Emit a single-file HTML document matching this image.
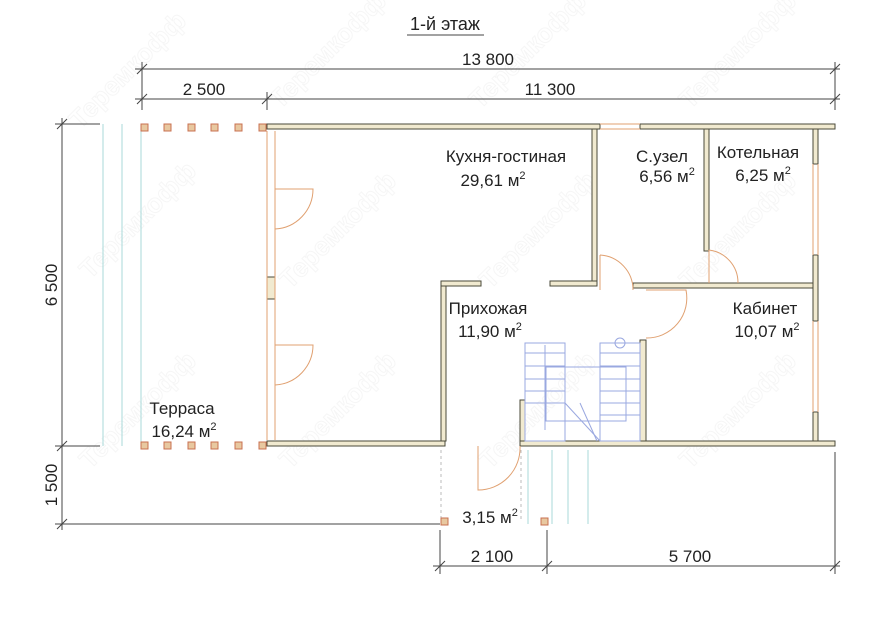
<!DOCTYPE html>
<html><head><meta charset="utf-8"><style>
html,body{margin:0;padding:0;background:#fff;}
svg{display:block;font-family:"Liberation Sans","DejaVu Sans",sans-serif;}
.w{fill:#f1ead0;stroke:#4a4a3a;stroke-width:1}
.d{stroke:#444;stroke-width:1;fill:none}
.t{font-size:17px;fill:#222}
.o{stroke:#e0a070;stroke-width:1;fill:none}
.c{stroke:#a8d8d8;stroke-width:1;fill:none}
.s{stroke:#9aa8e0;stroke-width:1;fill:none}
.p{fill:#e8c8a0;stroke:#c87050;stroke-width:1}
.wm{font-size:26px;font-weight:bold;fill:none;stroke:#f6f6f6;stroke-width:1}
</style></head><body>
<svg width="890" height="630" viewBox="0 0 890 630" xmlns="http://www.w3.org/2000/svg">
<g>
<text class="wm" transform="translate(80,130) rotate(-45)">Теремкофф</text>
<text class="wm" transform="translate(280,110) rotate(-45)">Теремкофф</text>
<text class="wm" transform="translate(480,110) rotate(-45)">Теремкофф</text>
<text class="wm" transform="translate(690,110) rotate(-45)">Теремкофф</text>
<text class="wm" transform="translate(90,280) rotate(-45)">Теремкофф</text>
<text class="wm" transform="translate(290,290) rotate(-45)">Теремкофф</text>
<text class="wm" transform="translate(490,290) rotate(-45)">Теремкофф</text>
<text class="wm" transform="translate(690,290) rotate(-45)">Теремкофф</text>
<text class="wm" transform="translate(90,470) rotate(-45)">Теремкофф</text>
<text class="wm" transform="translate(290,470) rotate(-45)">Теремкофф</text>
<text class="wm" transform="translate(490,470) rotate(-45)">Теремкофф</text>
<text class="wm" transform="translate(690,470) rotate(-45)">Теремкофф</text>
</g>
<text x="445" y="30" class="t" text-anchor="middle" style="font-size:18px">1-й этаж</text>
<line x1="407" y1="35" x2="484" y2="35" class="d"/>
<line x1="135" y1="69" x2="840" y2="69" class="d"/>
<line x1="135" y1="99" x2="840" y2="99" class="d"/>
<line x1="142" y1="62" x2="142" y2="110" class="d"/>
<line x1="835" y1="62" x2="835" y2="110" class="d"/>
<line x1="267" y1="92" x2="267" y2="110" class="d"/>
<g class="d"><line x1="137" y1="74" x2="147" y2="64"/><line x1="830" y1="74" x2="840" y2="64"/><line x1="137" y1="104" x2="147" y2="94"/><line x1="262" y1="104" x2="272" y2="94"/><line x1="830" y1="104" x2="840" y2="94"/></g>
<text x="488" y="65" class="t" text-anchor="middle">13 800</text>
<text x="204" y="95" class="t" text-anchor="middle">2 500</text>
<text x="550" y="95" class="t" text-anchor="middle">11 300</text>
<line x1="62" y1="118" x2="62" y2="530" class="d"/>
<line x1="55" y1="124" x2="100" y2="124" class="d"/>
<line x1="55" y1="446" x2="100" y2="446" class="d"/>
<line x1="55" y1="524" x2="440" y2="524" class="d"/>
<g class="d"><line x1="57" y1="129" x2="67" y2="119"/><line x1="57" y1="451" x2="67" y2="441"/><line x1="57" y1="529" x2="67" y2="519"/></g>
<text transform="translate(57,285) rotate(-90)" class="t" text-anchor="middle">6 500</text>
<text transform="translate(57,485) rotate(-90)" class="t" text-anchor="middle">1 500</text>
<line x1="433" y1="566" x2="840" y2="566" class="d"/>
<line x1="440" y1="530" x2="440" y2="574" class="d"/>
<line x1="547" y1="530" x2="547" y2="574" class="d"/>
<line x1="835" y1="452" x2="835" y2="574" class="d"/>
<g class="d"><line x1="435" y1="571" x2="445" y2="561"/><line x1="542" y1="571" x2="552" y2="561"/><line x1="830" y1="571" x2="840" y2="561"/></g>
<text x="492" y="562" class="t" text-anchor="middle">2 100</text>
<text x="690" y="562" class="t" text-anchor="middle">5 700</text>
<g class="c"><line x1="103" y1="124" x2="103" y2="446"/><line x1="122" y1="124" x2="122" y2="446"/><line x1="141" y1="124" x2="141" y2="446"/>
<line x1="552" y1="450" x2="552" y2="524"/><line x1="568" y1="450" x2="568" y2="524"/><line x1="588" y1="450" x2="588" y2="524"/><line x1="528" y1="450" x2="528" y2="524"/></g>
<g stroke="#bbb" stroke-dasharray="3,3"><line x1="441" y1="450" x2="441" y2="520"/><line x1="521" y1="450" x2="521" y2="520"/></g>
<g class="p"><rect x="141" y="124" width="7" height="7"/><rect x="164" y="124" width="7" height="7"/><rect x="188" y="124" width="7" height="7"/><rect x="211" y="124" width="7" height="7"/><rect x="235" y="124" width="7" height="7"/><rect x="259" y="124" width="7" height="7"/>
<rect x="141" y="442" width="7" height="7"/><rect x="164" y="442" width="7" height="7"/><rect x="188" y="442" width="7" height="7"/><rect x="211" y="442" width="7" height="7"/><rect x="235" y="442" width="7" height="7"/><rect x="259" y="442" width="7" height="7"/>
<rect x="441" y="518" width="7" height="7"/><rect x="541" y="518" width="7" height="7"/></g>
<g class="w">
<rect x="267" y="124" width="333" height="5"/>
<rect x="640" y="124" width="195" height="5"/>
<rect x="267" y="441" width="178" height="5"/>
<rect x="520" y="441" width="315" height="5"/>
<rect x="267" y="277" width="8" height="22"/>
<rect x="592" y="129" width="5" height="152"/>
<rect x="441" y="283" width="5" height="158"/>
<rect x="441" y="281" width="40" height="5"/>
<rect x="550" y="281" width="47" height="5"/>
<rect x="704" y="129" width="5" height="122"/>
<rect x="633" y="283" width="185" height="5"/>
<rect x="813" y="129" width="5" height="35"/>
<rect x="813" y="255" width="5" height="66"/>
<rect x="813" y="412" width="5" height="29"/>
<rect x="640" y="340" width="6" height="101"/>
<rect x="520" y="400" width="5" height="41"/>
</g>
<g class="o">
<line x1="267" y1="131" x2="267" y2="440"/><line x1="275" y1="131" x2="275" y2="440"/>
<line x1="600" y1="124" x2="640" y2="124"/><line x1="600" y1="129" x2="640" y2="129"/>
<line x1="813" y1="164" x2="813" y2="255"/><line x1="818" y1="164" x2="818" y2="255"/>
<line x1="813" y1="321" x2="813" y2="412"/><line x1="818" y1="321" x2="818" y2="412"/>
<path d="M275 189 H313 A40 40 0 0 1 275 229"/>
<path d="M275 345 H313 A40 40 0 0 1 275 385"/>
<path d="M600 255 V290 M600 255 A35 35 0 0 1 633 290"/>
<path d="M709 250 V283 M709 250 A33 33 0 0 1 738 283"/>
<path d="M646 290 H686 A40 40 0 0 1 646 338"/>
<path d="M478 446 V490 A42 42 0 0 0 520 446"/>
</g>
<g class="s">
<rect x="525" y="343" width="40" height="98"/>
<rect x="600" y="343" width="40" height="98"/>
<rect x="546" y="367" width="80" height="54"/>
<line x1="525" y1="353" x2="565" y2="353"/><line x1="525" y1="366" x2="565" y2="366"/><line x1="525" y1="379" x2="565" y2="379"/><line x1="525" y1="391" x2="565" y2="391"/><line x1="525" y1="403" x2="565" y2="403"/>
<line x1="600" y1="353" x2="640" y2="353"/><line x1="600" y1="366" x2="640" y2="366"/><line x1="600" y1="379" x2="640" y2="379"/><line x1="600" y1="391" x2="640" y2="391"/><line x1="600" y1="403" x2="640" y2="403"/><line x1="600" y1="415" x2="640" y2="415"/>
<line x1="565" y1="403" x2="600" y2="441"/><line x1="580" y1="403" x2="597" y2="441"/>
<line x1="545" y1="345" x2="545" y2="430"/>
<circle cx="620" cy="343" r="5"/>
</g>
<g class="t">
<text x="506" y="162" text-anchor="middle">Кухня-гостиная</text>
<text x="493" y="186" text-anchor="middle">29,61 м<tspan dy="-7" font-size="11">2</tspan></text>
<text x="662" y="162" text-anchor="middle">С.узел</text>
<text x="667" y="182" text-anchor="middle">6,56 м<tspan dy="-7" font-size="11">2</tspan></text>
<text x="758" y="158" text-anchor="middle">Котельная</text>
<text x="763" y="181" text-anchor="middle">6,25 м<tspan dy="-7" font-size="11">2</tspan></text>
<text x="488" y="314" text-anchor="middle">Прихожая</text>
<text x="490" y="337" text-anchor="middle">11,90 м<tspan dy="-7" font-size="11">2</tspan></text>
<text x="765" y="314" text-anchor="middle">Кабинет</text>
<text x="767" y="337" text-anchor="middle">10,07 м<tspan dy="-7" font-size="11">2</tspan></text>
<text x="182" y="414" text-anchor="middle">Терраса</text>
<text x="184" y="437" text-anchor="middle">16,24 м<tspan dy="-7" font-size="11">2</tspan></text>
<text x="490" y="523" text-anchor="middle">3,15 м<tspan dy="-7" font-size="11">2</tspan></text>
</g>
</svg>
</body></html>
